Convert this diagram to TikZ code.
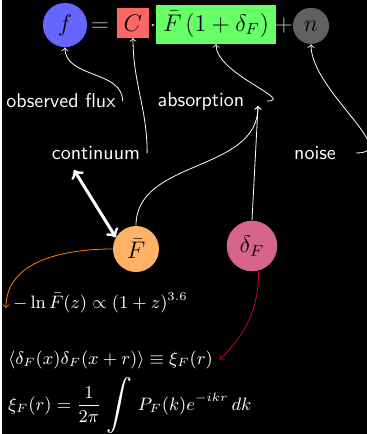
\documentclass[tikz,border=0pt]{standalone}
\usepackage{amsmath,amssymb}
\usepackage{graphicx}
\definecolor{flucpink}{RGB}{214,100,140}
\definecolor{flucred}{RGB}{190,0,70}
\newcommand{\bigintegral}{\vcenter{\hbox{\scalebox{1.4}{$\displaystyle\int$}}}}

\begin{document}
\begin{tikzpicture}[x=0.5pt,y=-0.5pt,
  lbl/.style={text=white,font=\sffamily},
  eqpart/.style={anchor=base,text=black,font=\large},
  eqop/.style={anchor=base,text=lightgray,font=\large},
  formula/.style={anchor=base west,text=white,font=\small},
  link/.style={->,white}]
\useasboundingbox (0,0) rectangle (367,434);
\fill[white] (0,0) rectangle (367,434);
\fill[black] (2,0) rectangle (367,434);
% the model
\node[eqpart,circle,fill=blue!60] (f) at (65,31) {$f$};
\node[eqop] (eq) at (100,31) {$=$};
\node[eqpart,fill=red!60] (C) at (133,31) {$C$};
\node[eqop] (dot) at (153,31) {$\cdot$};
\node[eqpart,fill=green!60] (abs) at (216,31) {$\bar{F}\,(1+\delta_F)$};
\node[eqop] (plus) at (284,31) {$+$};
\node[eqpart,circle,fill=black!62] (n) at (311,31) {$n$};
% what each term is
\node[lbl] (obs) at (61,101) {observed flux};
\node[lbl,inner xsep=11pt] (absorp) at (201,101) {absorption};
\node[lbl] (cont) at (96,153) {continuum};
\node[lbl,inner xsep=10pt] (noise) at (315,153) {noise};
\draw[link] (obs.east) to[out=90,in=-90] (f.south);
\draw[link] (cont.east) to[out=90,in=-90] (C.south);
\draw[link] (absorp.east) to[out=0,in=-90] (abs.south);
\draw[link] (noise.east) to[out=0,in=-90] (n.south);
% mean flux and fluctuations
\node[circle,fill=orange!60,minimum size=23pt,font=\large] (Fbar) at (136,249) {$\bar{F}$};
\node[circle,fill=flucpink,minimum size=25pt,font=\large] (dF) at (252,246) {$\delta_F$};
\coordinate (absin) at (258,106);
\coordinate (contlow) at (74,170);
\draw[link] (Fbar.north) to[out=90,in=-90] (absin);
\draw[link] (dF.north) -- (absin);
\draw[<->,white,line width=1.5pt] (contlow) -- (Fbar.150);
\node[formula] (lnF) at (6,308) {$-\ln\bar{F}(z)\propto(1+z)^{3.6}$};
\node[formula] (corr) at (1,364) {$\langle\delta_F(x)\delta_F(x+r)\rangle\equiv\xi_F(r)$};
\node[formula] (xi) at (1,410) {$\displaystyle\xi_F(r)=\frac{1}{2\pi}\;\bigintegral\; P_F(k)e^{-ikr}\,dk$};
\draw[->,orange] (Fbar.west) to[out=180,in=90] (lnF.base west);
\draw[->,flucred] (dF.-75) to[out=-90,in=45] (corr.east);
\end{tikzpicture}
\end{document}
